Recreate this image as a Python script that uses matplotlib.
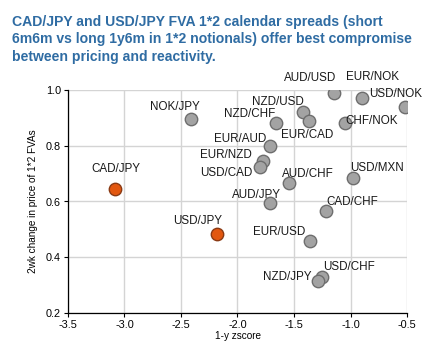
import matplotlib
matplotlib.use("Agg")
import matplotlib.pyplot as plt

names = ["CAD/JPY", "USD/JPY", "NOK/JPY", "AUD/USD", "EUR/NOK", "USD/NOK", "NZD/USD",
         "EUR/CAD", "NZD/CHF", "CHF/NOK", "EUR/AUD", "EUR/NZD", "USD/CAD", "AUD/CHF",
         "USD/MXN", "AUD/JPY", "CAD/CHF", "EUR/USD", "USD/CHF", "NZD/JPY"]
zscore = [-3.08, -2.18, -2.41, -1.15, -0.90, -0.52, -1.42,
          -1.37, -1.66, -1.05, -1.71, -1.77, -1.80, -1.54,
          -0.98, -1.71, -1.22, -1.36, -1.25, -1.29]
price_change = [0.645, 0.485, 0.895, 0.99, 0.97, 0.94, 0.92,
                0.89, 0.88, 0.88, 0.80, 0.745, 0.725, 0.665,
                0.685, 0.595, 0.565, 0.46, 0.33, 0.315]
highlight = ["CAD/JPY", "USD/JPY"]

# label offsets in pixels (dx, dy; dy positive = up)
offsets = {"CAD/JPY": (0, 20), "USD/JPY": (-20, 13), "NOK/JPY": (-16, 12),
           "AUD/USD": (-23, 15), "EUR/NOK": (11, 21), "USD/NOK": (-9, 13),
           "NZD/USD": (-25, 10), "EUR/CAD": (-2, -14), "NZD/CHF": (-26, 9),
           "CHF/NOK": (27, 2), "EUR/AUD": (-30, 7), "EUR/NZD": (-38, 6),
           "USD/CAD": (-34, -6), "AUD/CHF": (18, 9), "USD/MXN": (24, 10),
           "AUD/JPY": (-14, 8), "CAD/CHF": (27, 9), "EUR/USD": (-31, 9),
           "USD/CHF": (27, 10), "NZD/JPY": (-30, 4)}

plt.rcParams['font.family'] = ['Liberation Sans', 'DejaVu Sans']
dpi = 100
fig = plt.figure(figsize=(4.43, 3.62), dpi=dpi)
ax = fig.add_axes([68/443, 49/362, 339/443, 223/362])

for n, x, y in zip(names, zscore, price_change):
    if n in highlight:
        fc, ec = "#E2570F", "#8A3A14"
    else:
        fc, ec = "#A3A3A3", "#6E6E6E"
    ax.scatter([x], [y], s=80, facecolor=fc, edgecolor=ec, linewidth=1.0, zorder=3)
    dx, dy = offsets[n]
    ax.annotate(n, (x, y), xytext=(dx * 72 / dpi, dy * 72 / dpi), textcoords="offset points",
                ha="center", va="center", fontsize=8.4, color="#1a1a1a", zorder=4)

ax.set_xlim(-3.5, -0.5)
ax.set_ylim(0.2, 1.0)
ax.set_xticks([-3.5, -3.0, -2.5, -2.0, -1.5, -1.0, -0.5])
ax.set_yticks([0.2, 0.4, 0.6, 0.8, 1.0])
ax.set_xticklabels(["-3.5", "-3.0", "-2.5", "-2.0", "-1.5", "-1.0", "-0.5"])
ax.set_yticklabels(["0.2", "0.4", "0.6", "0.8", "1.0"])
ax.grid(True, color="#D4D4D4", linewidth=1.0, zorder=0)
ax.set_axisbelow(True)
for s in ["top", "right"]:
    ax.spines[s].set_visible(False)
for s in ["left", "bottom"]:
    ax.spines[s].set_color("black")
    ax.spines[s].set_linewidth(0.9)
ax.tick_params(axis="both", labelsize=7.8, length=3, width=0.8, colors="black", pad=2)
ax.set_xlabel("1-y zscore", fontsize=7.2, labelpad=1)
ax.set_ylabel("2wk change in price of 1*2 FVAs", fontsize=7.2, labelpad=6)

fig.text(12/443, 1 - 15/362,
         "CAD/JPY and USD/JPY FVA 1*2 calendar spreads (short\n"
         "6m6m vs long 1y6m in 1*2 notionals) offer best compromise\n"
         "between pricing and reactivity.",
         ha="left", va="top", fontsize=10.1, fontweight="bold", color="#2F6CA3",
         linespacing=1.3)

fig.savefig("out.png", dpi=dpi)
